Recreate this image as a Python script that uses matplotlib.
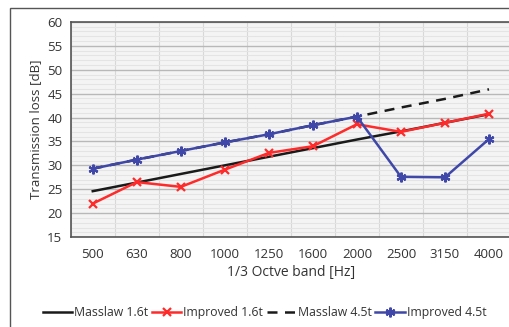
import numpy as np
import matplotlib.pyplot as plt
from matplotlib.patches import Rectangle

# Data
bands = ['500', '630', '800', '1000', '1250', '1600', '2000', '2500', '3150', '4000']
masslaw_16 = [24.6, 26.4, 28.2, 30.0, 31.8, 33.6, 35.4, 37.1, 38.9, 40.7]
improved_16 = [22.0, 26.5, 25.5, 29.1, 32.6, 34.0, 38.6, 37.0, 38.9, 40.8]
masslaw_45 = [29.3, 31.2, 33.0, 34.8, 36.5, 38.4, 40.2, 42.1, 43.9, 45.9]
improved_45 = [29.3, 31.2, 33.0, 34.8, 36.5, 38.4, 40.2, 27.6, 27.5, 35.5]

plt.rcParams['font.family'] = ['Open Sans', 'DejaVu Sans']

fig = plt.figure(figsize=(5.09, 3.27), dpi=100)
ax = fig.add_axes([0.139, 0.275, 0.865, 0.658])

x = np.arange(len(bands))
ax.plot(x, masslaw_16, color='#1a1a1a', lw=1.8, label='Masslaw 1.6t', zorder=3)
ax.plot(x, improved_16, color='#ff2a2a', lw=1.8, marker='x', ms=6, mew=1.6,
        label='Improved 1.6t', zorder=4)
ax.plot(x, masslaw_45, color='#1a1a1a', lw=1.8, ls=(0, (4, 3)), label='Masslaw 4.5t', zorder=3)
ax.plot(x, improved_45, color='#3f48a8', lw=1.8, marker=(6, 2, 0), ms=7, mew=1.6,
        label='Improved 4.5t', zorder=5)

ax.set_xlim(-0.5, len(bands) - 0.5)
ax.set_ylim(15, 60)
ax.set_xticks(x)
ax.set_xticklabels(bands)
ax.set_yticks(np.arange(15, 61, 5))
ax.set_yticks(np.arange(15, 61, 1), minor=True)
ax.set_xticks(np.arange(-0.5, len(bands), 1), minor=True)
ax.grid(True, which='minor', axis='y', color='#e4e4e4', lw=0.8)
ax.grid(True, which='major', axis='y', color='#b8b8b8', lw=1.0)
ax.grid(True, which='minor', axis='x', color='#d8d8d8', lw=0.8)
ax.set_axisbelow(True)
ax.set_facecolor('#f4f4f4')
ax.tick_params(which='both', length=0, labelsize=9.5, colors='#333333', pad=8)
ax.tick_params(axis='y', pad=6)
ax.spines['right'].set_visible(False)
for s in ['left', 'bottom', 'top']:
    ax.spines[s].set_color('#555555')
    ax.spines[s].set_linewidth(1.2)

ax.set_xlabel('1/3 Octve band [Hz]', fontsize=10, color='#333333', labelpad=3)
ax.set_ylabel('Transmission loss [dB]', fontsize=9.5, color='#333333', labelpad=4)

fig.legend(loc='center', bbox_to_anchor=(0.52, 0.045), ncol=4, frameon=False,
           fontsize=8.8, handlelength=2.4, handletextpad=0.15, columnspacing=0.3,
           labelcolor='#333333')

fig.patches.append(Rectangle((10 / 509, -0.1), 1.2, 1 - 8 / 327 + 0.1,
                             transform=fig.transFigure, fill=False,
                             ec='#555555', lw=1.0))

fig.savefig('out.png', dpi=100)
